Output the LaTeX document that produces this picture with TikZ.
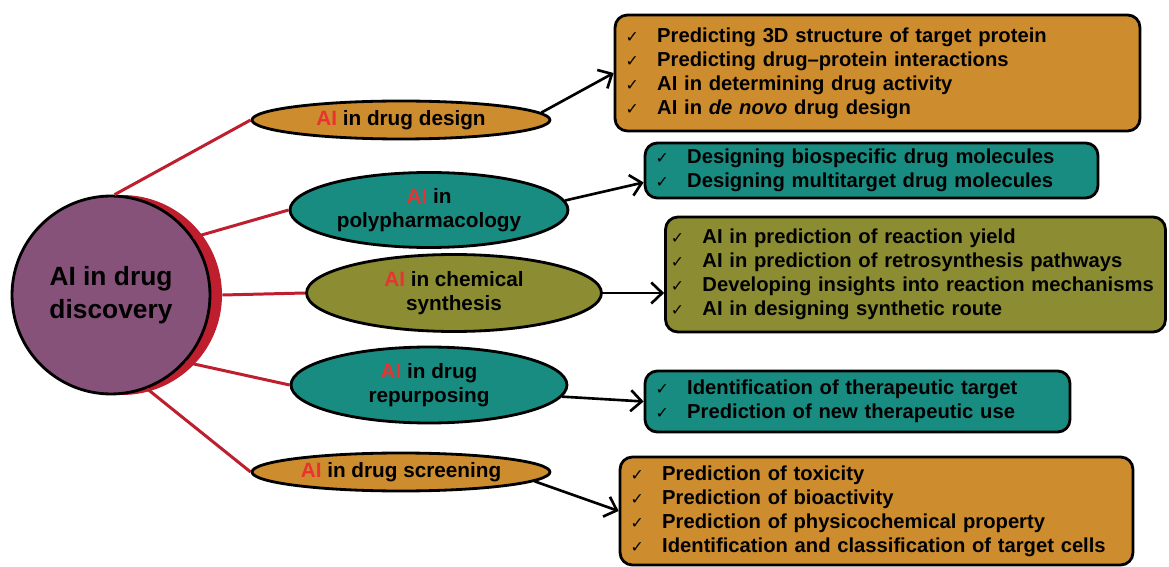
\documentclass[tikz,border=0pt]{standalone}
\usepackage{fontspec}
\setmainfont{Liberation Sans}
\newfontfamily\chkfont{DejaVu Sans}
\usepackage{tikz}
\usetikzlibrary{positioning,arrows.meta,shapes.geometric}
\usepackage{xcolor}
\definecolor{ochre}{RGB}{205,140,45}
\definecolor{tealfill}{RGB}{25,140,130}
\definecolor{olivefill}{RGB}{140,140,50}
\definecolor{hubpurple}{RGB}{134,82,122}
\definecolor{linkred}{RGB}{190,30,45}
\definecolor{aired}{RGB}{235,50,50}
\newcommand{\ai}{\textcolor{aired}{AI}}
\newcommand{\tick}{\makebox[18pt][l]{\normalfont\chkfont\small ✓}}

\begin{document}
\begin{tikzpicture}[x=0.02cm,y=-0.02cm,>={Straight Barb[length=2.2mm,width=4.2mm]},
  topic/.style={ellipse,draw,line width=1.6pt,inner sep=0pt,align=center,font=\bfseries\fontsize{11.8}{14}\selectfont},
  listbox/.style={draw,line width=1.6pt,rounded corners=7pt,inner xsep=6pt,align=left,font=\bfseries\fontsize{11.5}{13.6}\selectfont},
  link/.style={linkred,line width=1.7pt},
  feed/.style={->,line width=1.5pt}]
\useasboundingbox (0,0) rectangle (1169,567);
% hub
\node[circle,fill=linkred,minimum size=4cm,inner sep=0pt] (halo) at (122,295) {};
\node[circle,draw,line width=1.6pt,fill=hubpurple,minimum size=3.96cm,align=center,
  font=\bfseries\fontsize{15}{18.7}\selectfont,text=black] (hub) at (111,295) {AI in drug\\discovery};
% topics
\node[topic,fill=ochre,minimum width=5.96cm,minimum height=0.76cm] (design) at (401,120) {\ai{} in drug design};
\node[topic,fill=tealfill,minimum width=5.56cm,minimum height=1.5cm] (poly) at (429,210) {\ai{} in\\polypharmacology};
\node[topic,fill=olivefill,minimum width=5.9cm,minimum height=1.54cm] (chem) at (454,293) {\ai{} in chemical\\synthesis};
\node[topic,fill=tealfill,minimum width=5.52cm,minimum height=1.52cm] (repurp) at (429,385) {\ai{} in drug\\repurposing};
\node[topic,fill=ochre,minimum width=5.96cm,minimum height=0.76cm] (screen) at (401,472) {\ai{} in drug screening};
% lists
\node[listbox,fill=ochre,minimum height=2.32cm,text width=10.5cm-12pt] (box1) at (877.5,73) {%
  \tick Predicting 3D structure of target protein\\
  \tick Predicting drug--protein interactions\\
  \tick AI in determining drug activity\\
  \tick AI in \textit{de novo} drug design};
\node[listbox,fill=tealfill,minimum height=1.1cm,text width=9.06cm-12pt] (box2) at (871.5,170.5) {%
  \tick Designing biospecific drug molecules\\
  \tick Designing multitarget drug molecules};
\node[listbox,fill=olivefill,minimum height=2.3cm,inner xsep=3pt,text width=10.0cm-6pt] (box3) at (915.5,274.5) {%
  \tick AI in prediction of reaction yield\\
  \tick AI in prediction of retrosynthesis pathways\\
  \tick Developing insights into reaction mechanisms\\
  \tick AI in designing synthetic route};
\node[listbox,fill=tealfill,minimum height=1.22cm,text width=8.5cm-12pt] (box4) at (857.5,401.5) {%
  \tick Identification of therapeutic target\\
  \tick Prediction of new therapeutic use};
\node[listbox,fill=ochre,minimum height=2.16cm,text width=10.26cm-12pt] (box5) at (876.5,511) {%
  \tick Prediction of toxicity\\
  \tick Prediction of bioactivity\\
  \tick Prediction of physicochemical property\\
  \tick Identification and classification of target cells};
% red links
\draw[link] (hub.88) -- (design.west);
\draw[link] (hub.35) -- (poly.west);
\draw[link] (halo.east) -- (chem.west);
\draw[link] (hub.-42) -- (repurp.west);
\draw[link] (hub.-69) -- (screen.west);
% arrows
\draw[feed] (design.3) -- (box1.west);
\draw[feed] (poly.4) -- (box2.183);
\draw[feed] (chem.east) -- (chem.east -| box3.west);
\draw[feed] (repurp.-5) -- (box4.west);
\draw[feed] (screen.-4) -- (box5.west);
\end{tikzpicture}
\end{document}
